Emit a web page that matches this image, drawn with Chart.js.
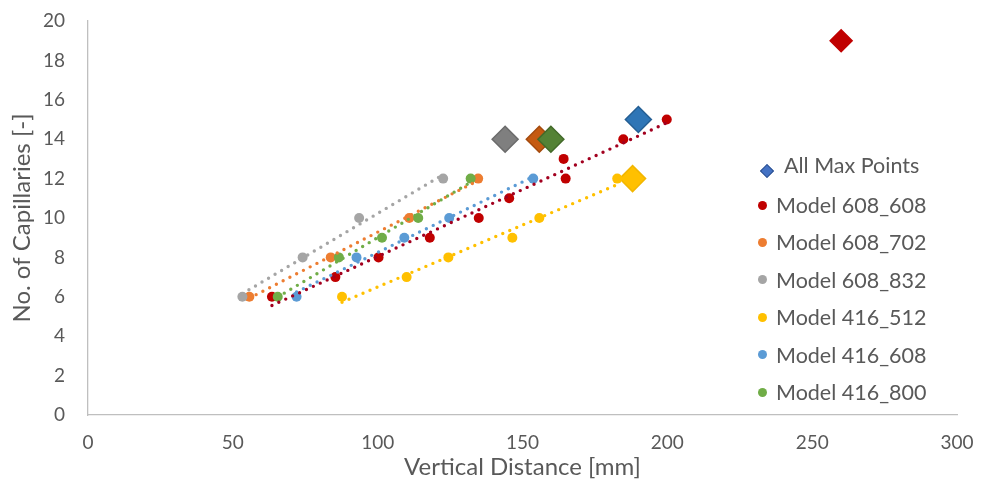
<!DOCTYPE html>
<html>
<head>
<meta charset="utf-8">
<script src="https://cdn.jsdelivr.net/npm/chart.js@4/dist/chart.umd.min.js"></script>
<style>
  html, body { margin: 0; padding: 0; background: #ffffff; }
  #wrap { position: relative; width: 988px; height: 482px; }
  #legend { position: absolute; left: 0; top: 0; width: 988px; height: 482px; pointer-events: none;
            font-family: Lato, "Open Sans", sans-serif; font-size: 21.5px; color: #595959; }
  .item { position: absolute; display: flex; align-items: center; height: 30px; white-space: nowrap; }
  .mk { display: inline-block; box-sizing: border-box; }
</style>
</head>
<body>
<div id="wrap">
  <canvas id="chart" width="988" height="482"></canvas>
  <div id="legend"></div>
</div>
<script>
// Vertical distance [mm] (x) and number of capillaries (y) per model
const m608_608_x = [63.5, 85.4, 100.3, 118, 134.9, 145.4, 164.9, 164.2, 184.8, 199.8];
const m608_608_y = [6, 7, 8, 9, 10, 11, 12, 13, 14, 15];
const m608_702_x = [55.7, 83.8, 110.9, 134.7];
const m608_702_y = [6, 8, 10, 12];
const m608_832_x = [53.3, 74.1, 93.6, 122.6];
const m608_832_y = [6, 8, 10, 12];
const m416_512_x = [87.7, 110, 124.4, 146.5, 155.8, 182.7];
const m416_512_y = [6, 7, 8, 9, 10, 12];
const m416_608_x = [72, 92.7, 109.2, 124.7, 153.7];
const m416_608_y = [6, 8, 9, 10, 12];
const m416_800_x = [65.5, 86.6, 101.5, 114, 132.1];
const m416_800_y = [6, 8, 9, 10, 12];

// Maximum point of each model
const maxX = [144, 155.8, 159.8, 190, 188, 260];
const maxY = [14, 14, 14, 15, 12, 19];
const maxFill = ['#7F7F7F', '#C55A11', '#548235', '#2E75B6', '#FFC000', '#C00000'];
const maxEdge = ['#6B6B6B', '#A44A0E', '#436A2A', '#255F94', '#F2B600', '#C00000'];
const maxSize = [13, 13, 13, 13, 13, 11];

const xTicks = [0, 50, 100, 150, 200, 250, 300];
const yTicks = [0, 2, 4, 6, 8, 10, 12, 14, 16, 18, 20];

const models = [
  { label: 'Model 608_608', xs: m608_608_x, ys: m608_608_y, color: '#C00000', trend: '#A2001F' },
  { label: 'Model 608_702', xs: m608_702_x, ys: m608_702_y, color: '#ED7D31', trend: '#ED7D31' },
  { label: 'Model 608_832', xs: m608_832_x, ys: m608_832_y, color: '#A5A5A5', trend: '#A5A5A5' },
  { label: 'Model 416_512', xs: m416_512_x, ys: m416_512_y, color: '#FFC000', trend: '#FFC000' },
  { label: 'Model 416_608', xs: m416_608_x, ys: m416_608_y, color: '#5B9BD5', trend: '#5B9BD5' },
  { label: 'Model 416_800', xs: m416_800_x, ys: m416_800_y, color: '#70AD47', trend: '#70AD47' }
];

function pairs(xs, ys) { return xs.map((x, i) => ({ x: x, y: ys[i] })); }

// Least-squares linear trendline across the range of a series
function trendline(xs, ys) {
  const n = xs.length;
  const mx = xs.reduce((a, b) => a + b, 0) / n;
  const my = ys.reduce((a, b) => a + b, 0) / n;
  let sxy = 0, sxx = 0;
  for (let i = 0; i < n; i++) { sxy += (xs[i] - mx) * (ys[i] - my); sxx += (xs[i] - mx) * (xs[i] - mx); }
  const slope = sxy / sxx, icpt = my - slope * mx;
  const x0 = Math.min(...xs), x1 = Math.max(...xs);
  return [{ x: x0, y: icpt + slope * x0 }, { x: x1, y: icpt + slope * x1 }];
}

const datasets = [];
datasets.push({
  label: 'All Max Points',
  data: pairs(maxX, maxY),
  pointStyle: 'rectRot',
  pointRadius: maxSize,
  pointHoverRadius: maxSize,
  backgroundColor: maxFill,
  borderColor: maxEdge,
  borderWidth: 1.5,
  order: 20
});
models.forEach((m, i) => {
  datasets.push({
    label: m.label,
    data: pairs(m.xs, m.ys),
    pointStyle: 'circle',
    pointRadius: 5,
    pointHoverRadius: 5,
    backgroundColor: m.color,
    borderColor: m.color,
    borderWidth: 0,
    order: 19 - i
  });
});
models.forEach((m, i) => {
  datasets.push({
    label: m.label + ' trend',
    data: trendline(m.xs, m.ys),
    showLine: true,
    pointRadius: 0,
    pointHoverRadius: 0,
    borderColor: m.trend,
    borderWidth: 3.4,
    borderDash: [0, 7.6],
    borderCapStyle: 'round',
    fill: false,
    order: 6 - i
  });
});

const FONT = 'Lato, "Open Sans", sans-serif';
const GREY = '#595959';

new Chart(document.getElementById('chart'), {
  type: 'scatter',
  data: { datasets: datasets },
  options: {
    responsive: false,
    animation: false,
    events: [],
    layout: { padding: { top: 21, right: 31, left: 0, bottom: 0 } },
    plugins: { legend: { display: false }, tooltip: { enabled: false } },
    scales: {
      x: {
        type: 'linear', min: 0, max: 300,
        afterBuildTicks: s => { s.ticks = xTicks.map(v => ({ value: v })); },
        afterFit: s => { s.height = 67; s.paddingLeft = 0; s.paddingRight = 0; },
        grid: { display: false, drawTicks: false },
        border: { display: true, color: '#BFBFBF', width: 1.3 },
        ticks: { color: GREY, font: { family: FONT, size: 19 }, padding: 16, maxRotation: 0 },
        title: { display: true, text: 'Vertical Distance [mm]', color: GREY,
                 font: { family: FONT, size: 24 }, padding: { top: 0, bottom: 0 } }
      },
      y: {
        type: 'linear', min: 0, max: 20,
        afterBuildTicks: s => { s.ticks = yTicks.map(v => ({ value: v })); },
        afterFit: s => { s.width = 88; s.paddingTop = 0; s.paddingBottom = 0; },
        grid: { display: false, drawTicks: false },
        border: { display: true, color: '#BFBFBF', width: 1.3 },
        ticks: { color: GREY, font: { family: FONT, size: 19 }, padding: 23 },
        title: { display: true, text: 'No. of Capillaries [-]', color: GREY,
                 font: { family: FONT, size: 24 }, padding: { top: 8, bottom: 0 } }
      }
    }
  }
});

// Legend built from the series definitions
const legend = document.getElementById('legend');
function addItem(top, left, marker, text) {
  const d = document.createElement('div');
  d.className = 'item';
  d.style.top = (top - 15) + 'px';
  d.style.left = left + 'px';
  d.appendChild(marker);
  const t = document.createElement('span');
  t.textContent = text;
  d.appendChild(t);
  legend.appendChild(d);
}
const dia = document.createElement('span');
dia.className = 'mk';
dia.style.cssText = 'width:10px;height:10px;background:#4472C4;border:1.5px solid #2F528F;transform:rotate(45deg);margin:12px 12px 0 2px;';
addItem(165, 760, dia, 'All Max Points');
models.forEach((m, i) => {
  const c = document.createElement('span');
  c.className = 'mk';
  c.style.cssText = 'width:9px;height:9px;border-radius:50%;background:' + m.color + ';margin-right:9px;';
  addItem(205 + i * 37.4, 758, c, m.label);
});
</script>
</body>
</html>
